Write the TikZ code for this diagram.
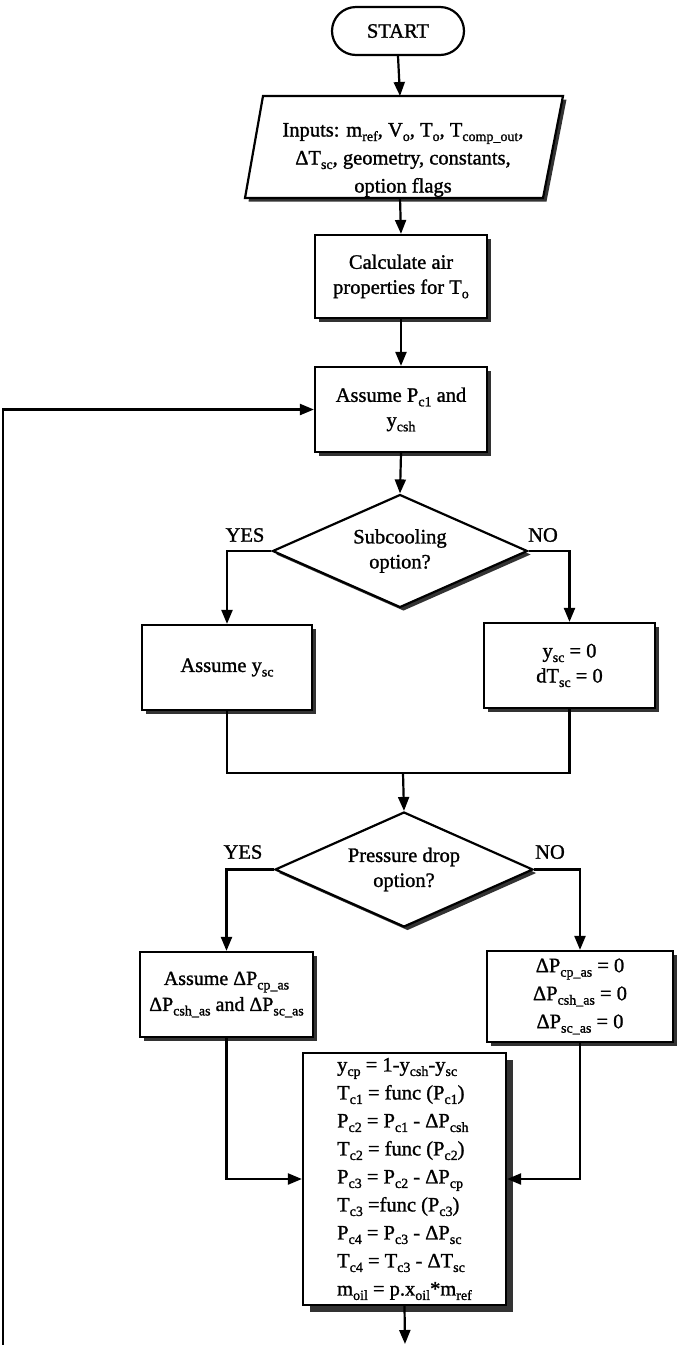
\documentclass[tikz,border=0pt]{standalone}
\usepackage{fontspec}
\setmainfont{Liberation Serif}[FakeBold=1.2]
\usetikzlibrary{shapes.geometric,shadows,arrows.meta}
\newcommand\sbx[1]{\raisebox{-4.5pt}{\fontsize{14}{14}\selectfont #1}}
\begin{document}
\begin{tikzpicture}[x=1pt,y=-1pt,
  every node/.style={font=\fontsize{20.5}{25}\selectfont, text=black},
  ln/.style={line width=2.2pt},
  arr/.style={line width=2.2pt, -{Triangle[length=14pt,width=11pt]}},
  shd/.style={drop shadow={shadow xshift=3.5pt, shadow yshift=-3.5pt, fill=black!80, opacity=1}},
  box/.style={draw, line width=2.2pt, fill=white, shd, align=center, inner sep=0pt},
  dia/.style={draw, diamond, line width=2.2pt, fill=white, shd, align=center, inner sep=0pt, aspect=2.25},
  lbl/.style={inner sep=0pt}]
\useasboundingbox (0,0) rectangle (678,1345);

% START
\node[draw, line width=2.2pt, rounded corners=24pt, minimum width=132pt, minimum height=48pt] (start) at (398,31) {START};

% Inputs (parallelogram)
\draw[ln, fill=white, shd] (263,96) -- (563,96) -- (543,198) -- (245,198) -- cycle;
\coordinate (inT) at (400,96);
\coordinate (inB) at (400,198);
\node[align=center, font=\fontsize{20.5}{28}\selectfont] (inputs) at (403,160)
  {Inputs: m\sbx{ref}, V\sbx{o}, T\sbx{o}, T\sbx{comp\_out},\\ ΔT\sbx{sc}, geometry, constants,\\ option flags};

\node[box, minimum width=172pt, minimum height=83pt] (air) at (401,276.5) {Calculate air\\properties for T\sbx{o}};
\node[box, minimum width=172pt, minimum height=85pt] (assume) at (401,409.5) {Assume P\sbx{c1} and\\y\sbx{csh}};

\node[dia, minimum width=255pt, minimum height=113pt] (d1) at (400,551) {Subcooling\\option?};
\node[lbl] (yes1) at (245,535) {YES};
\node[lbl] (no1) at (543,535) {NO};

\node[box, minimum width=170pt, minimum height=85pt] (ysc) at (227,667.5) {Assume y\sbx{sc}};
\node[box, minimum width=171pt, minimum height=85pt] (ysc0) at (569.5,665.5) {y\sbx{sc} = 0\\dT\sbx{sc} = 0};
\coordinate (m1) at (403,773);

\node[dia, minimum width=258pt, minimum height=115pt] (d2) at (404,869.5) {Pressure drop\\option?};
\node[lbl] (yes2) at (243,852) {YES};
\node[lbl] (no2) at (550,852) {NO};

\node[box, minimum width=173pt, minimum height=85pt, font=\fontsize{20}{26}\selectfont] (dpa) at (226.5,994.5)
  {Assume ΔP\sbx{cp\_as}\\ΔP\sbx{csh\_as} and ΔP\sbx{sc\_as}};
\node[box, minimum width=186pt, minimum height=91pt, font=\fontsize{20.5}{28}\selectfont] (dp0) at (580,996.5)
  {ΔP\sbx{cp\_as} = 0\\ΔP\sbx{csh\_as} = 0\\ΔP\sbx{sc\_as} = 0};

\node[draw, line width=2.2pt, fill=white, drop shadow={shadow xshift=7pt, shadow yshift=-7pt, fill=black!80, opacity=1},
  align=left, inner sep=0pt, minimum width=203pt, minimum height=252pt, font=\fontsize{20.5}{28}\selectfont] (calc) at (404.5,1179)
  {y\sbx{cp} = 1-y\sbx{csh}-y\sbx{sc}\\
   T\sbx{c1} = func (P\sbx{c1})\\
   P\sbx{c2} = P\sbx{c1} - ΔP\sbx{csh}\\
   T\sbx{c2} = func (P\sbx{c2})\\
   P\sbx{c3} = P\sbx{c2} - ΔP\sbx{cp}\\
   T\sbx{c3} =func (P\sbx{c3})\\
   P\sbx{c4} = P\sbx{c3} - ΔP\sbx{sc}\\
   T\sbx{c4} = T\sbx{c3} - ΔT\sbx{sc}\\
   m\sbx{oil} = p.x\sbx{oil}*m\sbx{ref}};
\coordinate (endp) at (405,1344);
\coordinate (fb) at (3,1345);

% connectors
\draw[arr] (start.south) -- (inT);
\draw[arr] (inB) -- (air.north);
\draw[arr] (air.south) -- (assume.north);
\draw[arr] (assume.south) -- (d1.north);
\draw[arr] (d1.west) -| (ysc.north);
\draw[arr] (d1.east) -| (ysc0.north);
\draw[ln] (ysc.south) |- (m1) -| (ysc0.south);
\draw[arr] (m1) -- (d2.north);
\draw[arr] (d2.west) -| (dpa.north);
\draw[arr] (d2.east) -| (dp0.north);
\draw[arr] (dpa.south) |- (calc.west);
\draw[arr] (dp0.south) |- (calc.east);
\draw[arr] (calc.south) -- (endp);
\draw[arr] (fb) |- (assume.west);
\end{tikzpicture}
\end{document}
